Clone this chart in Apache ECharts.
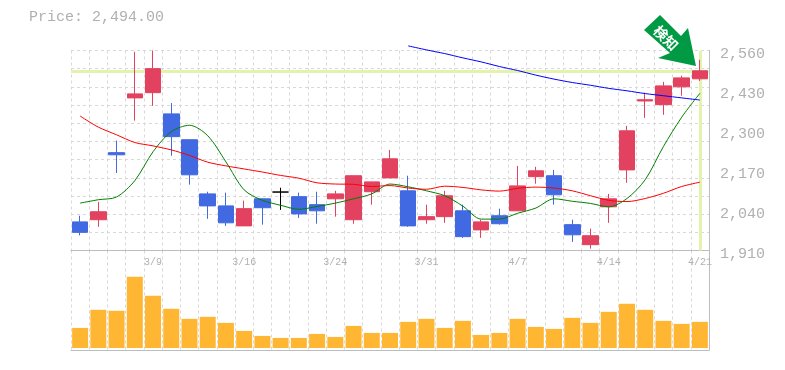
<!DOCTYPE html>
<html>
<head>
<meta charset="utf-8">
<style>html,body{margin:0;padding:0;background:#fff}#chart{width:785px;height:370px}</style>
<script src="https://cdn.jsdelivr.net/npm/echarts@6/dist/echarts.min.js"></script>
</head>
<body>
<div id="chart"></div>
<script>
const dates = ["3/3","3/4","3/5","3/6","3/9","3/10","3/11","3/12","3/13","3/16","3/17","3/18","3/19","3/23","3/24","3/25","3/26","3/27","3/30","3/31","4/1","4/2","4/3","4/6","4/7","4/8","4/9","4/10","4/13","4/14","4/15","4/16","4/17","4/20","4/21"]
// open, close, low, high
const candles = [
  [2003,1969,1959,2023],[2010,2036,1987,2068],[2228,2221,2162,2267],[2406,2419,2332,2556],[2423,2501,2380,2560],
  [2354,2280,2218,2389],[2270,2156,2124,2270],[2094,2055,2013,2101],[2055,2000,1990,2098],[1990,2046,1990,2072],
  [2078,2049,1994,2078],[2100,2100,2042,2114],[2085,2029,2016,2098],[2059,2039,1997,2101],[2078,2094,2020,2104],
  [2010,2153,1997,2153],[2101,2133,2059,2133],[2146,2208,2146,2237],[2104,1990,1987,2153],[2010,2020,1997,2059],
  [2020,2088,2000,2104],[2039,1955,1951,2059],[1977,2003,1951,2010],[2023,1997,1994,2046],[2039,2120,2039,2185],
  [2150,2169,2127,2182],[2153,2091,2059,2172],[1994,1961,1938,2010],[1929,1958,1916,1981],[2052,2078,2000,2094],
  [2172,2299,2130,2315],[2396,2400,2341,2423],[2384,2445,2351,2458],[2442,2471,2413,2478],[2468,2494,2461,2530]
]
const maShort = [2064,2075,2084,2137,2231,2296,2317,2283,2198,2107,2073,2057,2044,2053,2064,2078,2094,2126,2117,2104,2088,2054,2012,2012,2031,2048,2078,2070,2063,2052,2079,2140,2248,2343,2421]
const maMid = [2347,2311,2286,2261,2250,2237,2219,2197,2185,2175,2165,2154,2145,2130,2126,2125,2118,2121,2113,2109,2119,2115,2107,2103,2112,2116,2113,2104,2088,2073,2069,2079,2096,2118,2132]
const maLong = [null,null,null,null,null,null,null,null,null,null,null,null,null,null,null,null,null,null,2575,2562,2550,2536,2523,2508,2495,2480,2467,2456,2447,2437,2429,2420,2413,2406,2399]
const volumes = [20,38,37,71,52,39,29,31,25,17,12,10,10,14,11,22,15,15,26,29,20,27,13,15,29,21,19,30,25,36,44,38,27,24,26]
const lastPrice = 2494
const markerText = "検知"

const fmt = (v) => String(v).replace(/(\d)(\d{3})$/, "$1,$2")
const gridColor = "#d8d8d8"
const frameColor = "#bdbdbd"
const textColor = "#b0b0b0"
const mono = "'Liberation Mono', monospace"

const chart = echarts.init(document.getElementById("chart"))

const dashed = { color: gridColor, type: [3, 3], width: 1 }

const xBase = {
  type: "category",
  data: dates,
  boundaryGap: true,
  axisTick: { show: false },
  axisLine: { show: true, onZero: false, lineStyle: { color: frameColor, width: 1 } },
  splitLine: { show: true, interval: 0, lineStyle: dashed },
}

chart.setOption({
  animation: false,
  backgroundColor: "#fff",
  title: {
    text: "Price: " + fmt(lastPrice) + ".00",
    left: 24,
    top: 5,
    textStyle: { color: textColor, fontFamily: mono, fontSize: 15, fontWeight: "normal" },
  },
  grid: [
    { left: 71, top: 50.5, width: 638, height: 200 },
    { left: 71, top: 250.5, width: 638, height: 99.5 },
  ],
  xAxis: [
    { ...xBase, gridIndex: 0, axisLabel: { show: false } },
    {
      ...xBase,
      gridIndex: 1,
      position: "top",
      axisLine: { show: false },
      axisLabel: {
        inside: true,
        interval: (i) => (i + 1) % 5 === 0,
        color: textColor,
        fontFamily: mono,
        fontSize: 10,
        margin: 7,
        hideOverlap: false,
      },
    },
    {
      type: "category",
      data: dates,
      gridIndex: 1,
      position: "bottom",
      axisTick: { show: false },
      axisLabel: { show: false },
      axisLine: { show: true, onZero: false, lineStyle: { color: frameColor, width: 1 } },
    },
  ],
  yAxis: [
    {
      type: "value",
      gridIndex: 0,
      min: 1910,
      max: 2560,
      interval: 650 / 11,
      position: "right",
      axisTick: { show: false },
      axisLine: { show: true, lineStyle: { color: frameColor, width: 1 } },
      axisLabel: { show: false },
      splitLine: { show: true, lineStyle: dashed },
    },
    {
      type: "value",
      gridIndex: 0,
      min: 1910,
      max: 2560,
      interval: 130,
      position: "right",
      axisTick: { show: false },
      axisLine: { show: false },
      splitLine: { show: false },
      axisLabel: {
        margin: 11,
        formatter: (v) => "{a|" + fmt(Math.round(v)) + "}",
        rich: {
          a: { color: textColor, fontFamily: mono, fontSize: 15, padding: [8, 0, 0, 0] },
        },
      },
    },
    {
      type: "value",
      gridIndex: 1,
      min: -2,
      max: 97,
      position: "right",
      axisTick: { show: false },
      axisLabel: { show: false },
      axisLine: { show: true, lineStyle: { color: frameColor, width: 1 } },
      splitLine: { show: false },
    },
  ],
  series: [
    {
      type: "line",
      name: "last",
      data: [],
      z: 1,
      silent: true,
      markLine: {
        silent: true,
        z: 1,
        symbol: "none",
        label: { show: false },
        animation: false,
        lineStyle: { color: "#e3f2ad", width: 3, type: "solid" },
        data: [{ yAxis: lastPrice }, { xAxis: dates[dates.length - 1] }],
      },
    },
    {
      type: "candlestick",
      name: "price",
      data: candles,
      barWidth: 16,
      z: 3,
      itemStyle: {
        color: "#e2425f",
        color0: "#4169e1",
        borderColor: "#e2425f",
        borderColor0: "#4169e1",
        borderColorDoji: "#000",
        borderWidth: 1,
      },
    },
    { type: "line", name: "short", data: maShort, symbol: "none", smooth: 0.3, clip: false, z: 4, lineStyle: { color: "#008000", width: 1 } },
    { type: "line", name: "mid", data: maMid, symbol: "none", smooth: 0.3, clip: false, z: 4, lineStyle: { color: "#ff0000", width: 1 } },
    { type: "line", name: "long", data: maLong, symbol: "none", smooth: 0.3, clip: false, z: 4, lineStyle: { color: "#0000ff", width: 1 } },
    {
      type: "bar",
      name: "volume",
      xAxisIndex: 1,
      yAxisIndex: 2,
      data: volumes,
      barWidth: 16,
      itemStyle: { color: "#ffb733" },
    },
  ],
  graphic: [
    {
      type: "polygon",
      z: 10,
      shape: { points: [[660, 15], [644, 30], [670, 53], [658, 58], [696, 66], [688, 28], [681, 36]] },
      style: { fill: "#009a44" },
    },
    {
      type: "text",
      z: 11,
      x: 666,
      y: 38,
      rotation: -Math.PI / 4,
      style: {
        text: markerText,
        fill: "#fff",
        font: "bold 14px 'Noto Sans CJK JP'",
        align: "center",
        verticalAlign: "middle",
      },
    },
  ],
})
</script>
</body>
</html>
